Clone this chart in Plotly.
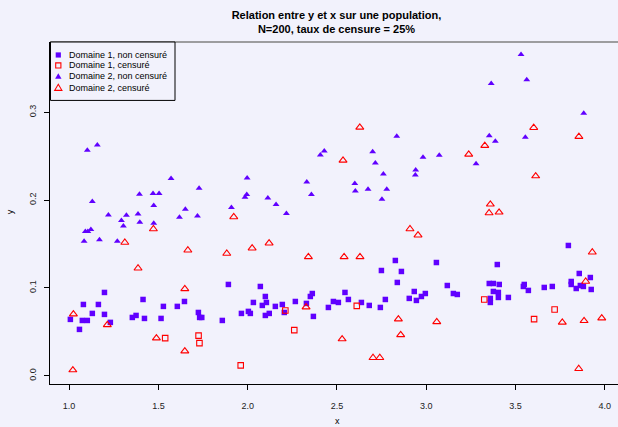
import plotly.graph_objects as go

# ---------------- data ----------------
d1_obs_x = [1.198, 1.080, 1.164, 1.414, 1.528, 1.606, 1.646, 1.130, 1.198, 1.007,
            1.074, 1.102, 1.231, 1.354, 1.375, 1.422, 1.515, 1.058, 1.724, 1.731,
            1.743, 1.892, 2.071, 2.099, 2.032, 2.105, 2.082, 2.155, 2.194, 2.267,
            2.362, 2.351, 2.329, 2.205, 1.965, 2.004, 2.015, 2.121, 2.099, 1.858,
            2.368, 2.452, 2.480, 2.508, 2.545, 2.827, 3.057, 2.749, 2.861, 2.838,
            3.118, 2.564, 2.637, 2.681, 2.743, 2.771, 2.933, 2.905, 2.945, 2.973,
            2.995, 3.152, 3.174, 3.796, 3.398, 3.353, 3.376, 3.409, 3.376, 3.404,
            3.359, 3.359, 3.404, 3.460, 3.549, 3.544, 3.572, 3.661, 3.706, 3.857,
            3.919, 3.812, 3.812, 3.863, 3.880, 3.840, 3.924]
d1_obs_y = [0.0949, 0.0812, 0.0812, 0.0869, 0.0790, 0.0790, 0.0846, 0.0710, 0.0699, 0.0642,
            0.0630, 0.0630, 0.0608, 0.0664, 0.0687, 0.0653, 0.0653, 0.0528, 0.0721, 0.0664,
            0.0664, 0.1040, 0.1017, 0.0903, 0.0835, 0.0835, 0.0801, 0.0790, 0.0812, 0.0846,
            0.0937, 0.0903, 0.0824, 0.0721, 0.0710, 0.0733, 0.0710, 0.0710, 0.0687, 0.0630,
            0.0676, 0.0778, 0.0846, 0.0835, 0.0949, 0.1313, 0.1290, 0.1199, 0.1188, 0.1063,
            0.1028, 0.0869, 0.0835, 0.0801, 0.0778, 0.0869, 0.0960, 0.0881, 0.0858, 0.0903,
            0.0937, 0.0937, 0.0926, 0.1484, 0.1267, 0.1051, 0.1051, 0.1040, 0.0960, 0.0949,
            0.0881, 0.0835, 0.0892, 0.0892, 0.1040, 0.1017, 0.0972, 0.1006, 0.1017, 0.1165,
            0.1119, 0.1074, 0.1040, 0.1028, 0.1017, 0.0994, 0.0983]

d1_cens_x = [1.538, 1.725, 1.730, 2.211, 2.261, 1.961, 2.611, 3.325, 3.719, 3.604]
d1_cens_y = [0.0429, 0.0457, 0.0372, 0.0744, 0.0520, 0.0118, 0.0796, 0.0869, 0.0755, 0.0645]

d2_obs_x = [1.102, 1.158, 1.571, 1.130, 1.394, 1.470, 1.504, 1.474, 1.728, 1.651,
            1.719, 1.220, 1.321, 1.386, 1.293, 1.396, 1.304, 1.618, 1.474, 1.091,
            1.105, 1.122, 1.084, 1.170, 1.270, 2.429, 2.407, 1.997, 2.331, 2.357,
            1.995, 1.985, 2.113, 2.159, 1.909, 2.217, 2.835, 2.700, 2.982, 3.073,
            3.279, 2.715, 2.941, 2.939, 2.760, 2.600, 2.603, 2.674, 2.779, 2.752,
            3.531, 3.364, 3.563, 3.882, 3.353, 3.387, 3.555]
d2_obs_y = [0.2568, 0.2628, 0.2246, 0.1984, 0.2067, 0.2075, 0.2075, 0.1939, 0.2135, 0.1897,
            0.1820, 0.1832, 0.1828, 0.1843, 0.1768, 0.1749, 0.1707, 0.1806, 0.1737, 0.1643,
            0.1643, 0.1666, 0.1532, 0.1550, 0.1532, 0.2560, 0.2514, 0.2253, 0.2207, 0.2064,
            0.2064, 0.2033, 0.2025, 0.1950, 0.1916, 0.1848, 0.2727, 0.2553, 0.2488, 0.2511,
            0.2416, 0.2423, 0.2344, 0.2287, 0.2298, 0.2189, 0.2105, 0.2124, 0.2124, 0.2010,
            0.3660, 0.3330, 0.3372, 0.2989, 0.2735, 0.2670, 0.2716]

d2_cens_x = [1.472, 1.312, 1.665, 1.386, 1.648, 1.024, 1.214, 1.489, 1.648, 1.021,
             2.534, 1.922, 1.883, 2.025, 2.120, 2.340, 2.540, 2.327, 2.529, 2.628,
             3.238, 2.909, 2.954, 2.629, 2.844, 3.059, 2.857, 2.702, 2.740, 3.602,
             3.855, 3.328, 3.613, 3.359, 3.352, 3.408, 3.930, 3.893, 3.762, 3.884,
             3.983, 3.854]
d2_cens_y = [0.1672, 0.1518, 0.1430, 0.1225, 0.0990, 0.0702, 0.0580, 0.0429, 0.0281, 0.0065,
             0.2454, 0.1809, 0.1393, 0.1453, 0.1510, 0.1354, 0.1354, 0.0782, 0.0418, 0.2829,
             0.2522, 0.1672, 0.1601, 0.1354, 0.0645, 0.0614, 0.0466, 0.0205, 0.0205, 0.2826,
             0.2724, 0.2621, 0.2275, 0.1953, 0.1854, 0.1862, 0.1407, 0.1074, 0.0608, 0.0626,
             0.0656, 0.0080]

x_ticks = [1.0, 1.5, 2.0, 2.5, 3.0, 3.5, 4.0]
x_tick_labels = ["1.0", "1.5", "2.0", "2.5", "3.0", "3.5", "4.0"]
y_ticks = [0.0, 0.1, 0.2, 0.3]
y_tick_labels = ["0.0", "0.1", "0.2", "0.3"]

legend_labels = ["Domaine 1, non censuré", "Domaine 1, censuré",
                 "Domaine 2, non censuré", "Domaine 2, censuré"]

title_text = "Relation entre y et x sur une population,<br>N=200, taux de censure = 25%"

# ---------------- styling ----------------
W, H = 618, 427
ML, MR, MT, MB = 50, 0, 41.5, 43
PW = W - ML - MR
PH = H - MT - MB
BLUE = "#6000FF"
RED = "#FF0000"
BG = "#F2F2FC"
FONT = "Liberation Sans, Arial, sans-serif"


def pxx(px):
    return (px - ML) / PW


def pxy(py):
    return (H - MB - py) / PH


fig = go.Figure()
fig.add_trace(go.Scatter(x=d1_obs_x, y=d1_obs_y, mode="markers", name=legend_labels[0],
                         marker=dict(symbol="square", size=5.5, color=BLUE, line=dict(width=0))))
fig.add_trace(go.Scatter(x=d1_cens_x, y=d1_cens_y, mode="markers", name=legend_labels[1],
                         marker=dict(symbol="square-open", size=5.5, color=RED, line=dict(width=1.1, color=RED))))
fig.add_trace(go.Scatter(x=d2_obs_x, y=d2_obs_y, mode="markers", name=legend_labels[2],
                         marker=dict(symbol="triangle-up", size=6, color=BLUE, line=dict(width=0))))
fig.add_trace(go.Scatter(x=d2_cens_x, y=d2_cens_y, mode="markers", name=legend_labels[3],
                         marker=dict(symbol="triangle-up-open", size=7, color=RED, line=dict(width=1.1, color=RED))))

shapes = []
annotations = []

# top border (grey)
shapes.append(dict(type="line", xref="paper", yref="paper", x0=0, x1=1, y0=1, y1=1,
                   line=dict(color="#808080", width=1.5)))

# manual legend
shapes.append(dict(type="rect", xref="paper", yref="paper",
                   x0=pxx(50.5), x1=pxx(175), y0=pxy(100), y1=pxy(41.5),
                   line=dict(color="black", width=1), fillcolor=BG, layer="above"))
rows = [54.5, 65, 76, 87.5]
mx = 58.3
h = 2.6
shapes.append(dict(type="rect", xref="paper", yref="paper",
                   x0=pxx(mx - h), x1=pxx(mx + h), y0=pxy(rows[0] + h), y1=pxy(rows[0] - h),
                   line=dict(width=0), fillcolor=BLUE, layer="above"))
shapes.append(dict(type="rect", xref="paper", yref="paper",
                   x0=pxx(mx - h), x1=pxx(mx + h), y0=pxy(rows[1] + h), y1=pxy(rows[1] - h),
                   line=dict(width=1.1, color=RED), fillcolor="rgba(0,0,0,0)", layer="above"))


def tri_path(cx, cy, half, top, bot):
    return (f"M {pxx(cx - half)} {pxy(cy + bot)} L {pxx(cx + half)} {pxy(cy + bot)} "
            f"L {pxx(cx)} {pxy(cy - top)} Z")


shapes.append(dict(type="path", xref="paper", yref="paper", path=tri_path(mx, rows[2], 3.2, 3.2, 2.2),
                   line=dict(width=0), fillcolor=BLUE, layer="above"))
shapes.append(dict(type="path", xref="paper", yref="paper", path=tri_path(mx, rows[3], 3.6, 3.6, 2.4),
                   line=dict(width=1.1, color=RED), fillcolor="rgba(0,0,0,0)", layer="above"))
for lab, ry in zip(legend_labels, rows):
    annotations.append(dict(text=lab, xref="paper", yref="paper", x=pxx(66.5), y=pxy(ry),
                            xanchor="left", yanchor="middle", showarrow=False,
                            font=dict(family=FONT, size=9, color="black")))

# axis titles
annotations.append(dict(text="x", xref="paper", yref="paper", x=pxx(337), y=pxy(421.5),
                        xanchor="center", yanchor="middle", showarrow=False,
                        font=dict(family=FONT, size=9, color="black")))
annotations.append(dict(text="y", xref="paper", yref="paper", x=pxx(10), y=pxy(212),
                        xanchor="center", yanchor="middle", showarrow=False, textangle=-90,
                        font=dict(family=FONT, size=9, color="black")))

fig.update_layout(
    width=W, height=H,
    margin=dict(l=ML, r=MR, t=MT, b=MB, autoexpand=False),
    paper_bgcolor=BG, plot_bgcolor=BG,
    showlegend=False,
    hovermode=False,
    shapes=shapes, annotations=annotations,
    font=dict(family=FONT, size=9, color="black"),
    title=dict(text="<b>" + title_text.replace("<br>", "</b><br><b>") + "</b>",
               x=336.5 / W, xref="container", xanchor="center",
               y=1 - 19 / H, yref="container", yanchor="middle",
               font=dict(family=FONT, size=11, color="black")),
    xaxis=dict(range=[0.893, 4.074], showgrid=False, zeroline=False, automargin=False,
               showline=True, linecolor="black", linewidth=1,
               ticks="outside", ticklen=5, tickwidth=1, tickcolor="black",
               tickvals=x_ticks, ticktext=x_tick_labels, ticklabelstandoff=8,
               tickfont=dict(family=FONT, size=9, color="#222")),
    yaxis=dict(range=[-0.0094, 0.3802], showgrid=False, zeroline=False, automargin=False,
               showline=True, linecolor="black", linewidth=1,
               ticks="outside", ticklen=5, tickwidth=1, tickcolor="black",
               tickvals=y_ticks, ticktext=y_tick_labels, tickangle=-90, ticklabelstandoff=4,
               tickfont=dict(family=FONT, size=9, color="#222")),
)

fig.write_html("out.html",
               config={"displayModeBar": False, "staticPlot": True},
               post_script="document.body.style.margin='0';document.body.style.padding='0';"
                           "document.body.style.background='" + BG + "';"
                           "document.body.style.overflow='hidden';")
